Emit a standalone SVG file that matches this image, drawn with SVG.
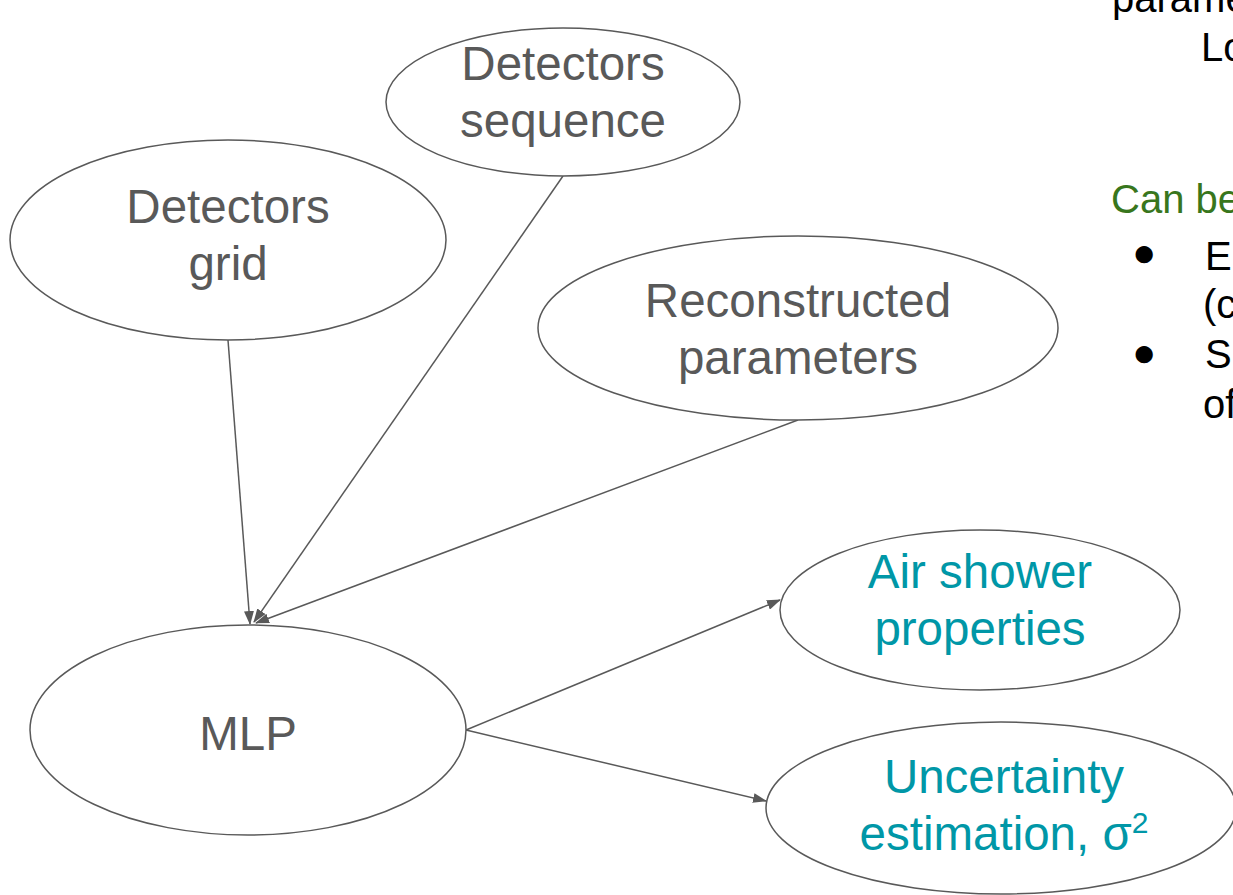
<svg xmlns="http://www.w3.org/2000/svg" width="1233" height="895" viewBox="0 0 1233 895">
<style>
.node{fill:#ffffff;stroke:#595959;stroke-width:1.5}
.lbl{font-family:"Liberation Sans",Arial,sans-serif;font-size:47.5px;fill:#595959;text-anchor:middle}
.out{fill:#0097a7}
.edge{stroke:#595959;stroke-width:1.5;fill:none;marker-end:url(#arr)}
.side{font-family:"Liberation Sans",Arial,sans-serif;font-size:40px;fill:#000000}
.green{fill:#38761d}
</style>
<defs>
<marker id="arr" markerUnits="userSpaceOnUse" markerWidth="14" markerHeight="10" refX="13" refY="5" orient="auto">
<path d="M0,0 L14,5 L0,10 z" fill="#595959"/>
</marker>
</defs>
<rect width="1233" height="895" fill="#ffffff"/>
<g id="connectors">
<line class="edge" x1="228" y1="340" x2="250" y2="624"/>
<line class="edge" x1="563" y1="176" x2="254" y2="622"/>
<line class="edge" x1="798" y1="420" x2="256" y2="623"/>
<line class="edge" x1="466" y1="730" x2="780" y2="600"/>
<line class="edge" x1="466" y1="730" x2="766" y2="801"/>
</g>
<g id="node-grid">
<ellipse class="node" cx="228" cy="240" rx="218" ry="100"/>
<text class="lbl" x="228" y="223">Detectors</text>
<text class="lbl" x="228" y="280">grid</text>
</g>
<g id="node-sequence">
<ellipse class="node" cx="563" cy="102" rx="177" ry="74"/>
<text class="lbl" x="563" y="80">Detectors</text>
<text class="lbl" x="563" y="137">sequence</text>
</g>
<g id="node-reconstructed">
<ellipse class="node" cx="798" cy="328" rx="260" ry="92"/>
<text class="lbl" x="798" y="317">Reconstructed</text>
<text class="lbl" x="798" y="374">parameters</text>
</g>
<g id="node-mlp">
<ellipse class="node" cx="248" cy="730" rx="218" ry="105"/>
<text class="lbl" x="248" y="750">MLP</text>
</g>
<g id="node-air">
<ellipse class="node" cx="980" cy="610" rx="200" ry="80"/>
<text class="lbl out" x="980" y="588">Air shower</text>
<text class="lbl out" x="980" y="645">properties</text>
</g>
<g id="node-uncertainty">
<ellipse class="node" cx="1001" cy="808" rx="235" ry="86"/>
<text class="lbl out" x="1004" y="793">Uncertainty</text>
<text class="lbl out" x="1004" y="850">estimation, σ<tspan font-size="30" dy="-17">2</tspan></text>
</g>
<g id="side-text">
<text class="side" x="1112" y="12">parame</text>
<text class="side" x="1201" y="61">Lo</text>
<text class="side green" x="1111" y="213">Can be</text>
<text class="side" x="1132" y="266">●</text>
<text class="side" x="1205" y="270">E</text>
<text class="side" x="1203" y="318">(c</text>
<text class="side" x="1132" y="366">●</text>
<text class="side" x="1205" y="368">S</text>
<text class="side" x="1203" y="418">of</text>
</g>
</svg>
